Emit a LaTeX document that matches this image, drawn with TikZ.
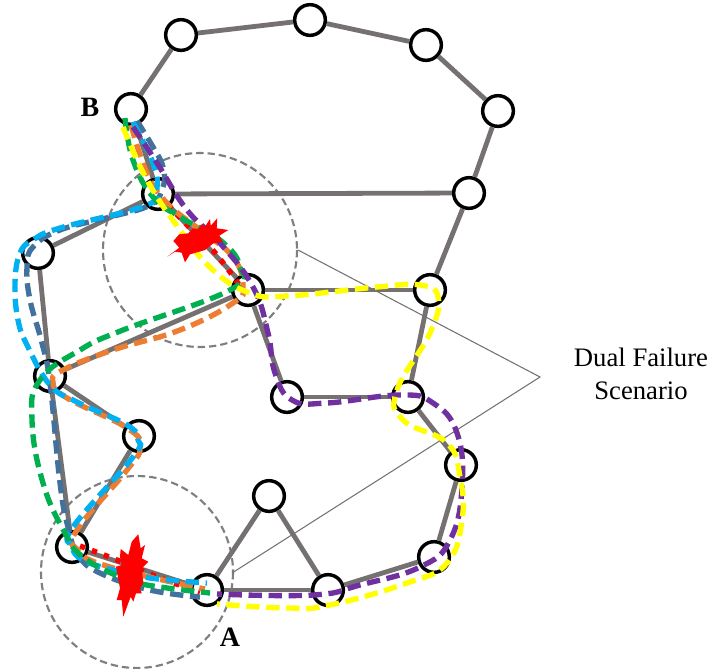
\documentclass[tikz,border=0pt]{standalone}
\usepackage{fontspec}
\setmainfont{Liberation Serif}
\definecolor{edgegrey}{HTML}{767171}
\definecolor{ringgrey}{HTML}{7F7F7F}
\definecolor{psteel}{HTML}{41719C}
\definecolor{pcyan}{HTML}{00B0F0}
\definecolor{porange}{HTML}{ED7D31}
\definecolor{pgreen}{HTML}{00B050}
\definecolor{ppurple}{HTML}{7030A0}
\definecolor{pyellow}{HTML}{FFFF00}
\tikzset{
  x=0.75pt,y=-0.75pt,
  router/.style={circle,draw=black,fill=white,line width=2.6pt,minimum size=23pt,inner sep=0pt},
  link/.style={draw=edgegrey,line width=3.6pt},
  ring/.style={draw=ringgrey,line width=1.6pt,dash pattern=on 5.5pt off 3pt},
  callout/.style={draw=edgegrey,line width=0.8pt},
  lsp/.style={line width=4pt,dash pattern=on 10pt off 5pt},
  failpath/.style={red,line width=4pt,dash pattern=on 4pt off 5.5pt},
  burst/.style={fill=red,draw=none},
  lab/.style={font=\fontsize{21}{24}\selectfont\bfseries},
}
\begin{document}
\begin{tikzpicture}
\useasboundingbox (0,0) rectangle (712,668);
% rings and callout
\draw[ring] (200,250) circle[radius=97];
\draw[ring] (137,572) circle[radius=96];
\coordinate (c0) at (298,250);
\coordinate (c1) at (540,377);
\coordinate (c2) at (232,573);
\draw[callout] (c0) -- (c1) -- (c2);
% nodes
\foreach \i/\x/\y in {1/131/109,2/181/35,3/310/20,4/426/45,5/498/111,6/469/193,7/430/290,8/408/397,9/461/465,10/434/557,11/328/590,12/269/496,13/207/590,14/72/547,15/139/436,16/50/376,17/38/253,18/158/194,19/248/290,20/287/397}
  \node[router] (n\i) at (\x,\y) {};
\foreach \a/\b in {1/2,2/3,3/4,4/5,5/6,6/7,7/8,8/9,9/10,10/11,11/12,12/13,13/11,13/14,14/15,15/16,16/14,16/17,17/18,18/6,18/1,18/19,19/7,19/20,20/8,19/16}
  \draw[link] (n\a) -- (n\b);
% failure paths
\draw[failpath] plot[smooth,tension=0.75] coordinates {(168,205) (190,228) (210,247) (227,268) (240,286)};
\draw[failpath] plot[smooth,tension=0.75] coordinates {(80,546) (117,560) (160,578) (200,592)};
\draw[lsp,psteel] plot[smooth,tension=0.7] coordinates {(137,121) (153,147) (163,167) (163,187) (150,205) (110,217) (60,230) (33,247) (27,267) (30,300) (42,343) (50,383) (60,483) (68,527) (78,555) (100,573) (150,590) (200,597)};
\draw[lsp,porange] plot[smooth,tension=0.75] coordinates {(131,125) (147,173) (167,203) (200,230) (233,257) (243,287) (233,303) (180,330) (113,350) (63,370) (53,382) (67,398) (127,428) (140,447) (127,470) (77,530) (78,550) (110,567) (205,589)};
\draw[lsp,pcyan] plot[smooth,tension=0.7] coordinates {(133,122) (153,163) (157,187) (147,205) (60,228) (33,240) (20,253) (15,283) (18,320) (28,347) (50,385) (77,402) (127,425) (138,440) (133,457) (73,527) (72,547) (83,560) (113,570) (150,578) (207,583)};
\draw[lsp,pgreen] plot[smooth,tension=0.75] coordinates {(125,118) (133,160) (153,197) (180,217) (220,240) (240,267) (230,290) (123,330) (80,350) (40,380) (32,420) (43,483) (65,533) (83,557) (120,577) (147,585) (210,593)};
\draw[lsp,ppurple] plot[smooth,tension=0.75] coordinates {(133,127) (157,163) (187,210) (220,243) (253,287) (268,333) (275,373) (292,400) (327,403) (400,395) (433,403) (457,433) (462,487) (450,540) (420,567) (360,585) (313,595) (217,594)};
\draw[lsp,pyellow] plot[smooth,tension=0.75] coordinates {(123,127) (147,180) (180,230) (213,270) (250,293) (287,296) (377,287) (420,285) (438,297) (430,333) (397,390) (403,420) (447,443) (460,477) (462,520) (447,563) (407,583) (330,605) (287,608) (217,604)};
\path[burst] (167.3,256.7) -- (179.3,247.7) -- (173.3,241) -- (179.3,234.3) -- (188.3,233.3) -- (192.7,228.3) -- (198.3,229) -- (201.7,224.3) -- (205,226.7) -- (210,219) -- (210.7,225.7) -- (217.3,218.3) -- (216.7,228.3) -- (228.3,230) -- (219.3,235.7) -- (222.7,241.7) -- (213.3,243.3) -- (205,250) -- (199.3,251.7) -- (190,254.3) -- (185,262.3) -- (181.7,252.7) -- (175,251.7) -- cycle;
\path[burst] (138.3,534.3) -- (140.7,548.3) -- (145,545) -- (141.7,558.3) -- (148.3,561.7) -- (141.7,568.3) -- (143.3,583.3) -- (140,588.3) -- (141.7,593.3) -- (136,593.3) -- (133.3,601.7) -- (130.7,596.7) -- (123.3,616.7) -- (121.7,600) -- (116.7,600) -- (120,588.3) -- (116,566.7) -- (121.7,565) -- (120,556.7) -- (120.7,549) -- (128.3,555) -- (131.7,541.7) -- cycle;
% labels
\node[lab] (lb) at (90,107) {B};
\node[lab] (la) at (230,637) {A};
\node[font=\fontsize{20}{24.5}\selectfont,align=center] (lf) at (641,374) {Dual Failure\\Scenario};
\end{tikzpicture}
\end{document}
